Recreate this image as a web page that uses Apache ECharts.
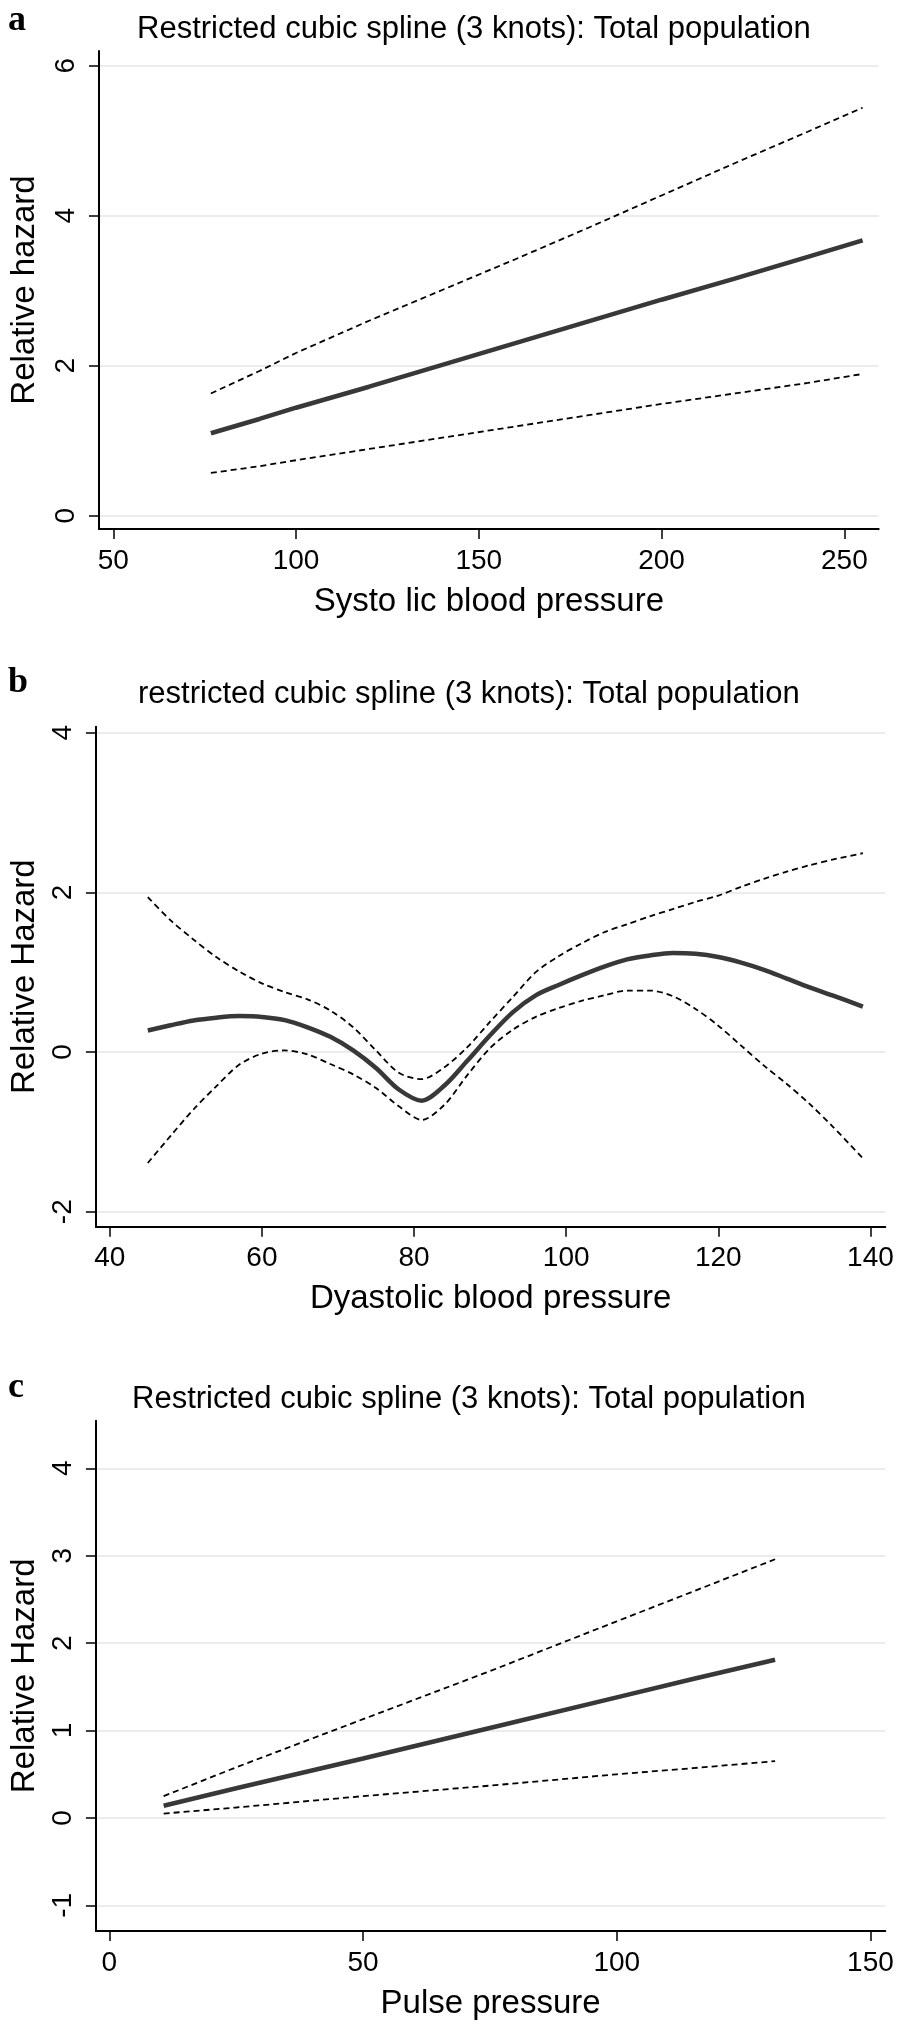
<!DOCTYPE html>
<html>
<head>
<meta charset="utf-8">
<script src="https://cdn.jsdelivr.net/npm/echarts@6/dist/echarts.min.js"></script>
<style>
html,body{margin:0;padding:0;background:#fff;}
#chart{width:898px;height:2032px;}
</style>
</head>
<body>
<div id="chart"></div>
<script>
// ---- Panel a: systolic blood pressure ----
const sbpX     = [76.7, 90, 100, 120, 140, 160, 180, 200, 220, 240, 255];
const sbpFit   = [1.10, 1.29, 1.44, 1.72, 2.01, 2.30, 2.59, 2.88, 3.16, 3.45, 3.67];
const sbpUpper = [1.63, 1.93, 2.17, 2.60, 3.01, 3.42, 3.84, 4.27, 4.70, 5.12, 5.44];
const sbpLower = [0.57, 0.66, 0.74, 0.89, 1.04, 1.19, 1.34, 1.49, 1.63, 1.77, 1.89];
const sbpXTicks = [50, 100, 150, 200, 250];
const sbpYTicks = [0, 2, 4, 6];

// ---- Panel b: diastolic blood pressure ----
const dbpX     = [45, 48, 51, 54, 57, 60, 63, 66, 69, 72, 75, 78, 81, 84, 87, 90, 93, 96, 99, 102, 105, 108, 111, 114, 117, 120, 123, 126, 129, 132, 135, 139];
const dbpFit   = [0.27, 0.335, 0.395, 0.43, 0.45, 0.44, 0.40, 0.31, 0.19, 0.02, -0.20, -0.47, -0.61, -0.42, -0.11, 0.21, 0.50, 0.71, 0.84, 0.96, 1.07, 1.16, 1.21, 1.24, 1.23, 1.19, 1.12, 1.03, 0.92, 0.81, 0.71, 0.57];
const dbpUpper = [1.94, 1.65, 1.41, 1.19, 1.01, 0.86, 0.75, 0.66, 0.52, 0.31, 0.02, -0.26, -0.34, -0.19, 0.06, 0.38, 0.69, 1.00, 1.20, 1.36, 1.50, 1.60, 1.70, 1.79, 1.88, 1.96, 2.07, 2.17, 2.26, 2.34, 2.41, 2.49];
const dbpLower = [-1.39, -1.05, -0.72, -0.43, -0.16, -0.02, 0.02, -0.03, -0.15, -0.28, -0.45, -0.68, -0.85, -0.66, -0.29, 0.05, 0.28, 0.44, 0.55, 0.64, 0.71, 0.77, 0.77, 0.70, 0.54, 0.33, 0.08, -0.17, -0.40, -0.65, -0.93, -1.33];
const dbpXTicks = [40, 60, 80, 100, 120, 140];
const dbpYTicks = [-2, 0, 2, 4];

// ---- Panel c: pulse pressure ----
const ppX     = [10.7, 25, 50, 75, 100, 115, 131.2];
const ppFit   = [0.14, 0.34, 0.68, 1.03, 1.38, 1.59, 1.81];
const ppUpper = [0.25, 0.58, 1.13, 1.68, 2.25, 2.59, 2.96];
const ppLower = [0.05, 0.12, 0.25, 0.37, 0.50, 0.57, 0.65];
const ppXTicks = [0, 50, 100, 150];
const ppYTicks = [-1, 0, 1, 2, 3, 4];

const titleText = ['Restricted cubic spline (3 knots): Total population',
                   'restricted cubic spline (3 knots): Total population',
                   'Restricted cubic spline (3 knots): Total population'];
const xNames = ['Systo lic blood pressure', 'Dyastolic blood pressure', 'Pulse pressure'];
const yNames = ['Relative hazard', 'Relative Hazard', 'Relative Hazard'];
const letters = ['a', 'b', 'c'];

const FONT = '"Liberation Sans", Arial, Helvetica, sans-serif';

function pairs(xs, ys) { return xs.map((x, i) => [x, ys[i]]); }

function xAxisCfg(i, min, max, ticks) {
  return {
    type: 'value', gridIndex: i, min: min, max: max,
    name: xNames[i], nameLocation: 'middle', nameGap: 56,
    nameTextStyle: {fontFamily: FONT, fontSize: 33, color: '#000'},
    axisLine: {show: true, onZero: false, lineStyle: {color: '#000', width: 2}},
    axisTick: {show: true, length: 10, inside: false, customValues: ticks, lineStyle: {color: '#000', width: 1.5}},
    axisLabel: {show: true, customValues: ticks, margin: 18, fontFamily: FONT, fontSize: 28, color: '#000'},
    splitLine: {show: false}
  };
}
function yAxisCfg(i, min, max, ticks, gap) {
  return {
    type: 'value', gridIndex: i, min: min, max: max,
    name: yNames[i], nameLocation: 'middle', nameGap: gap, nameRotate: 90,
    nameTextStyle: {fontFamily: FONT, fontSize: 33, color: '#000'},
    axisLine: {show: true, onZero: false, lineStyle: {color: '#000', width: 2}},
    axisTick: {show: true, length: 10, inside: false, customValues: ticks, lineStyle: {color: '#000', width: 1.5}},
    axisLabel: {show: true, customValues: ticks, rotate: 90, margin: 19, fontFamily: FONT, fontSize: 28, color: '#000'},
    splitLine: {show: true, customValues: ticks, lineStyle: {color: '#e6e6e6', width: 1.5}}
  };
}
function seriesSet(i, xs, fit, up, lo, smooth) {
  const base = {type: 'line', xAxisIndex: i, yAxisIndex: i, showSymbol: false, symbol: 'none', smooth: smooth, animation: false, silent: true};
  return [
    Object.assign({}, base, {name: 'upper' + i, data: pairs(xs, up), lineStyle: {color: '#000', width: 1.8, type: [6, 4]}}),
    Object.assign({}, base, {name: 'lower' + i, data: pairs(xs, lo), lineStyle: {color: '#000', width: 1.8, type: [6, 4]}}),
    Object.assign({}, base, {name: 'fit' + i, data: pairs(xs, fit), lineStyle: {color: '#383838', width: 4.5, type: 'solid'}})
  ];
}

const option = {
  backgroundColor: '#fff',
  animation: false,
  title: [
    {text: titleText[0], left: 137, top: 14, padding: 0, textStyle: {fontFamily: FONT, fontSize: 31, fontWeight: 'normal', color: '#000'}},
    {text: titleText[1], left: 138, top: 679, padding: 0, textStyle: {fontFamily: FONT, fontSize: 31, fontWeight: 'normal', color: '#000'}},
    {text: titleText[2], left: 132, top: 1384, padding: 0, textStyle: {fontFamily: FONT, fontSize: 31, fontWeight: 'normal', color: '#000'}}
  ],
  graphic: [
    {type: 'text', left: 8, top: 3, style: {text: letters[0], font: 'bold 36px "Liberation Serif", "Times New Roman", serif', fill: '#000'}},
    {type: 'text', left: 8, top: 665, style: {text: letters[1], font: 'bold 36px "Liberation Serif", "Times New Roman", serif', fill: '#000'}},
    {type: 'text', left: 8, top: 1370, style: {text: letters[2], font: 'bold 36px "Liberation Serif", "Times New Roman", serif', fill: '#000'}}
  ],
  grid: [
    {left: 92.7, top: 51, width: 786, height: 478},
    {left: 88.3, top: 726.7, width: 797, height: 500},
    {left: 86.7, top: 1420.7, width: 798.6, height: 510.3}
  ],
  xAxis: [
    xAxisCfg(0, 46.1, 259.4, sbpXTicks),
    xAxisCfg(1, 38.18, 141.95, dbpXTicks),
    xAxisCfg(2, -2.65, 152.92, ppXTicks)
  ],
  yAxis: [
    yAxisCfg(0, -0.177, 6.196, sbpYTicks, 58),
    yAxisCfg(1, -2.188, 4.075, dbpYTicks, 54),
    yAxisCfg(2, -1.293, 4.545, ppYTicks, 53)
  ],
  series: [].concat(
    seriesSet(0, sbpX, sbpFit, sbpUpper, sbpLower, false),
    seriesSet(1, dbpX, dbpFit, dbpUpper, dbpLower, 0.3),
    seriesSet(2, ppX, ppFit, ppUpper, ppLower, false)
  )
};

const chart = echarts.init(document.getElementById('chart'), null, {renderer: 'canvas', width: 898, height: 2032});
chart.setOption(option);
</script>
</body>
</html>
